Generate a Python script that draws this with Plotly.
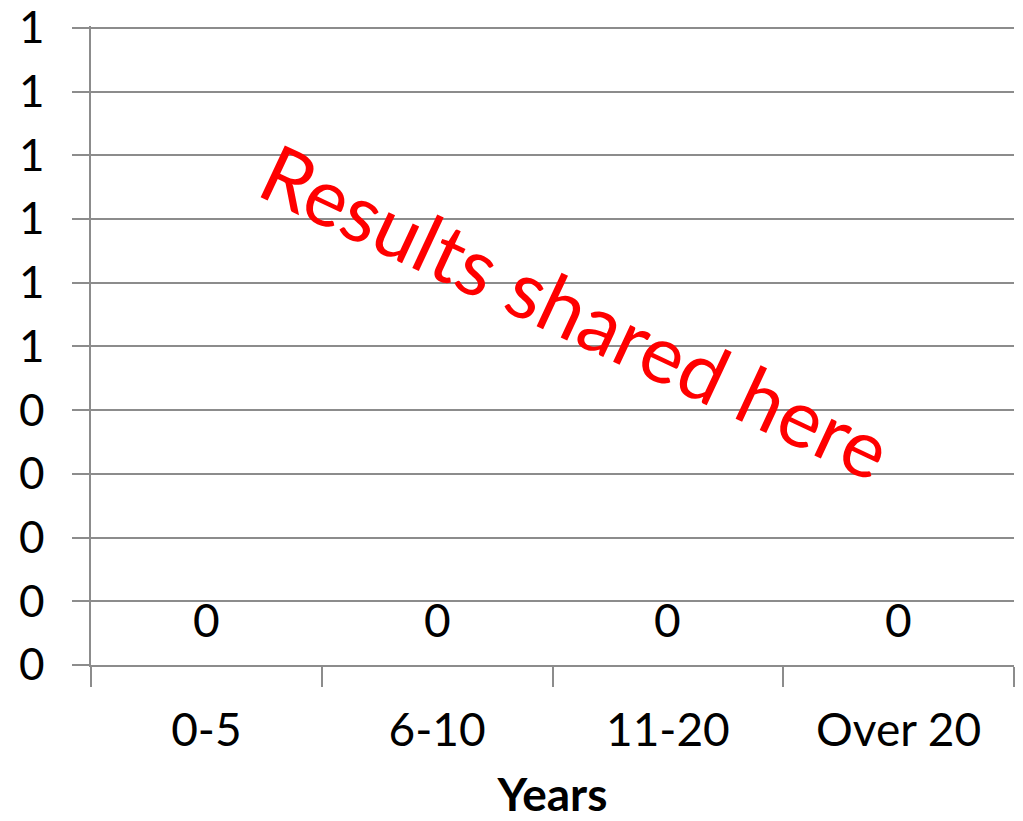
import plotly.graph_objects as go

categories = ["0-5", "6-10", "11-20", "Over 20"]
values = [0, 0, 0, 0]
data_labels = ["0", "0", "0", "0"]
y_tickvals = [0, 0.1, 0.2, 0.3, 0.4, 0.5, 0.6, 0.7, 0.8, 0.9, 1.0]
y_ticktext = ["0", "0", "0", "0", "0", "1", "1", "1", "1", "1", "1"]
x_title = "Years"
watermark = "Results shared here"

FONT = "Lato"
GRID = "#8c8c8c"

fig = go.Figure()
fig.add_trace(go.Bar(
    x=categories, y=values,
    marker=dict(color="#4f81bd", line=dict(width=0)),
    showlegend=False,
))

annotations = [
    dict(x=c, y=v, xref="x", yref="y", text=t, showarrow=False,
         yanchor="bottom", yshift=16,
         font=dict(family=FONT, size=46, color="black"))
    for c, v, t in zip(categories, values, data_labels)
]
annotations.append(dict(
    text=watermark, x=0.525, y=0.555, xref="paper", yref="paper",
    showarrow=False, textangle=25,
    font=dict(family=FONT, size=80, color="red"),
))

fig.update_layout(
    width=1023, height=821,
    margin=dict(l=91, r=9, t=26, b=156),
    paper_bgcolor="white", plot_bgcolor="white",
    font=dict(family=FONT, size=46, color="black"),
    xaxis=dict(
        type="category",
        automargin=False,
        tickson="boundaries",
        ticks="outside", ticklen=20, tickwidth=1.5, tickcolor=GRID,
        showgrid=False,
        showline=True, linecolor=GRID, linewidth=1.5,
        tickfont=dict(family=FONT, size=46),
        ticklabelstandoff=24,
        title=dict(text="<b>" + x_title + "</b>", font=dict(family=FONT, size=46), standoff=43),
    ),
    yaxis=dict(
        range=[0, 1.003],
        automargin=False,
        tickvals=y_tickvals, ticktext=y_ticktext,
        ticks="outside", ticklen=17, tickwidth=1.5, tickcolor=GRID,
        showgrid=True, gridcolor=GRID, gridwidth=1.5,
        showline=True, linecolor=GRID, linewidth=1.5,
        zeroline=False,
        tickfont=dict(family=FONT, size=44),
        ticklabelstandoff=19,
        ticklabeloverflow="allow",
    ),
    annotations=annotations,
)

fig.write_html("out.html")
